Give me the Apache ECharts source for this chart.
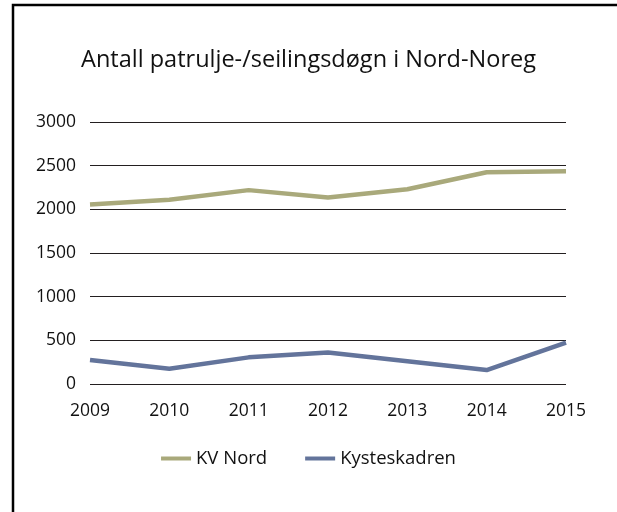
<!DOCTYPE html>
<html>
<head>
<meta charset="utf-8">
<script src="https://cdn.jsdelivr.net/npm/echarts@6/dist/echarts.min.js"></script>
<style>
  html, body { margin: 0; padding: 0; background: #fff; }
  #chart { width: 617px; height: 512px; }
</style>
</head>
<body>
<div id="chart"></div>
<script>
const years = ["2009", "2010", "2011", "2012", "2013", "2014", "2015"];
const kvNord = [2055, 2110, 2220, 2135, 2230, 2425, 2435];
const kysteskadren = [275, 175, 305, 360, 260, 160, 475];
const yTicks = { min: 0, max: 3000, interval: 500 };

const chart = echarts.init(document.getElementById("chart"));
chart.setOption({
  backgroundColor: "#fff",
  textStyle: { fontFamily: "Open Sans" },
  title: {
    text: "Antall patrulje-/seilingsdøgn i Nord-Noreg",
    left: "center",
    top: 43,
    textStyle: { fontSize: 23.5, fontWeight: "normal", color: "#111", fontFamily: "Open Sans" }
  },
  legend: {
    bottom: 39,
    left: "center",
    itemWidth: 30,
    itemHeight: 4,
    itemGap: 38,
    icon: "rect",
    textStyle: { fontSize: 18.5, color: "#111" },
    data: ["KV Nord", "Kysteskadren"]
  },
  grid: { left: 90, right: 51, top: 122, bottom: 128 },
  xAxis: {
    type: "category",
    data: years,
    boundaryGap: false,
    axisLine: { show: false },
    axisTick: { show: false },
    axisLabel: { fontSize: 17.5, color: "#111", margin: 18 }
  },
  yAxis: {
    type: "value",
    min: yTicks.min,
    max: yTicks.max,
    interval: yTicks.interval,
    axisLine: { show: false },
    axisTick: { show: false },
    axisLabel: { fontSize: 17.5, color: "#111", margin: 14, formatter: (v) => String(v) },
    splitLine: { lineStyle: { color: "#231f20", width: 1 } }
  },
  graphic: [
    {
      type: "polyline",
      shape: { points: [[13, 512], [13, 5], [617, 5]] },
      style: { stroke: "#000", lineWidth: 2.5, fill: null }
    }
  ],
  series: [
    {
      name: "KV Nord",
      type: "line",
      data: kvNord,
      symbol: "none",
      color: "#a9a97b",
      lineStyle: { width: 4.5, color: "#a9a97b" }
    },
    {
      name: "Kysteskadren",
      type: "line",
      data: kysteskadren,
      symbol: "none",
      color: "#63749b",
      lineStyle: { width: 4.5, color: "#63749b" }
    }
  ]
});
</script>
</body>
</html>
